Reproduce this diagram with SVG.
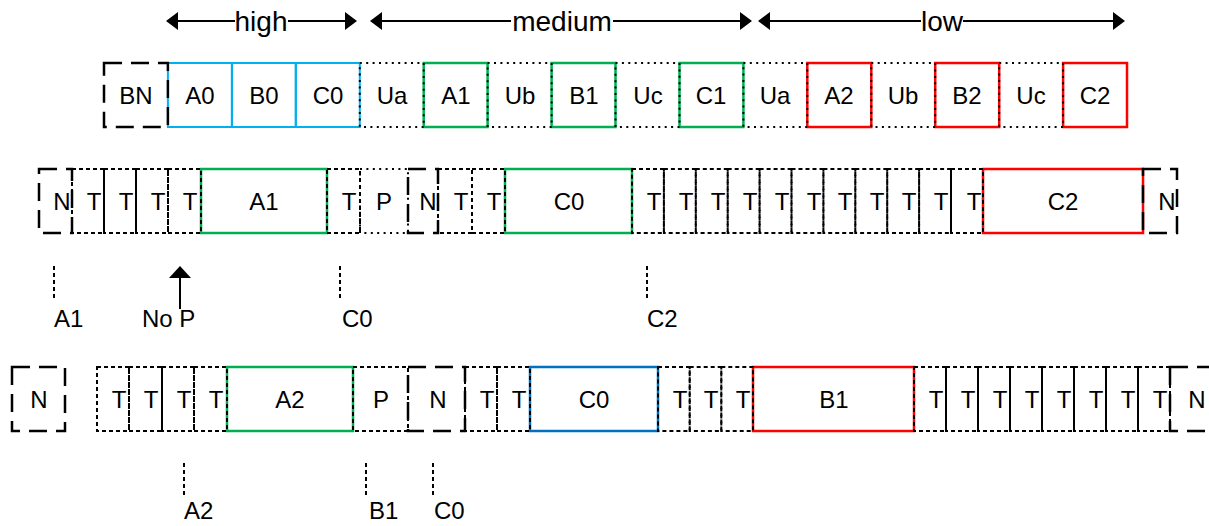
<svg xmlns="http://www.w3.org/2000/svg" width="1209" height="526" viewBox="0 0 1209 526">
<style>
rect{fill:none}
.ld{stroke:#000;stroke-width:2.5;stroke-dasharray:18 9}
.sd{stroke:#000;stroke-width:2;stroke-dasharray:4 3}
.dt{stroke:#000;stroke-width:2;stroke-dasharray:2 4.4}
.bl{stroke:#00b0f0;stroke-width:2}
.gr{stroke:#00b050;stroke-width:2.5}
.rd{stroke:#ff0000;stroke-width:2.5}
.db{stroke:#0070c0;stroke-width:2.5}
.tk{stroke:#000;stroke-width:2;stroke-dasharray:4 3;fill:none}
.ar{stroke:#000;stroke-width:2;fill:none}
.ah{fill:#000}
text{font-family:"Liberation Sans",Arial,sans-serif;font-size:24px;fill:#000;text-anchor:middle}
.s{text-anchor:start}
.big{font-size:28px}
</style>

<g id="connectors">
  <!-- top range arrows -->
  <line class="ar" x1="176" y1="21" x2="235" y2="21"/>
  <line class="ar" x1="288" y1="21" x2="347" y2="21"/>
  <polygon class="ah" points="166,21 178,12 178,30"/>
  <polygon class="ah" points="357,21 345,12 345,30"/>
  <line class="ar" x1="380" y1="21" x2="511" y2="21"/>
  <line class="ar" x1="613" y1="21" x2="742" y2="21"/>
  <polygon class="ah" points="370,21 382,12 382,30"/>
  <polygon class="ah" points="752,21 740,12 740,30"/>
  <line class="ar" x1="768" y1="21" x2="921" y2="21"/>
  <line class="ar" x1="963" y1="21" x2="1115" y2="21"/>
  <polygon class="ah" points="758,21 770,12 770,30"/>
  <polygon class="ah" points="1125,21 1113,12 1113,30"/>
  <!-- markers under row 2 -->
  <line class="tk" x1="54" y1="266" x2="54" y2="299"/>
  <line class="tk" x1="340" y1="266" x2="340" y2="299"/>
  <line class="tk" x1="647" y1="266" x2="647" y2="299"/>
  <line class="ar" x1="180" y1="276" x2="180" y2="309"/>
  <polygon class="ah" points="180,266 169,278 191,278"/>
  <!-- markers under row 3 -->
  <line class="tk" x1="184" y1="463" x2="184" y2="497"/>
  <line class="tk" x1="366" y1="463" x2="366" y2="497"/>
  <line class="tk" x1="433" y1="463" x2="433" y2="497"/>
</g>

<g id="range-labels">
  <text class="big" x="261" y="31">high</text>
  <text class="big" x="562" y="31">medium</text>
  <text class="big" x="942" y="31">low</text>
</g>

<!-- Row 1 -->
<g id="r1-A0"><rect class="bl" x="167.9" y="63" width="64" height="64"/><text x="200" y="104">A0</text></g>
<g id="r1-B0"><rect class="bl" x="231.9" y="63" width="63.9" height="64"/><text x="264" y="104">B0</text></g>
<g id="r1-C0"><rect class="bl" x="295.8" y="63" width="64" height="64"/><text x="328" y="104">C0</text></g>
<g id="r1-A1"><rect class="gr" x="423.7" y="63" width="63.9" height="64"/><text x="456" y="104">A1</text></g>
<g id="r1-B1"><rect class="gr" x="551.6" y="63" width="63.9" height="64"/><text x="584" y="104">B1</text></g>
<g id="r1-C1"><rect class="gr" x="679.5" y="63" width="63.9" height="64"/><text x="711" y="104">C1</text></g>
<g id="r1-A2"><rect class="rd" x="807.3" y="63" width="64" height="64"/><text x="839" y="104">A2</text></g>
<g id="r1-B2"><rect class="rd" x="935.2" y="63" width="64" height="64"/><text x="967" y="104">B2</text></g>
<g id="r1-C2"><rect class="rd" x="1063.1" y="63" width="63.9" height="64"/><text x="1095" y="104">C2</text></g>
<g id="r1-BN"><rect class="ld" x="104" y="63" width="63.9" height="64"/><text x="136" y="104">BN</text></g>
<g id="r1-Ua1"><rect class="dt" x="359.8" y="63" width="63.9" height="64"/><text x="392" y="104">Ua</text></g>
<g id="r1-Ub1"><rect class="dt" x="487.6" y="63" width="64" height="64"/><text x="520" y="104">Ub</text></g>
<g id="r1-Uc1"><rect class="dt" x="615.5" y="63" width="64" height="64"/><text x="648" y="104">Uc</text></g>
<g id="r1-Ua2"><rect class="dt" x="743.4" y="63" width="63.9" height="64"/><text x="775" y="104">Ua</text></g>
<g id="r1-Ub2"><rect class="dt" x="871.3" y="63" width="63.9" height="64"/><text x="903" y="104">Ub</text></g>
<g id="r1-Uc2"><rect class="dt" x="999.2" y="63" width="63.9" height="64"/><text x="1031" y="104">Uc</text></g>

<!-- Row 2 -->
<g id="r2-A1"><rect class="gr" x="201" y="169" width="126" height="64"/><text x="264" y="210">A1</text></g>
<g id="r2-C0"><rect class="gr" x="505" y="169" width="127" height="64"/><text x="569" y="210">C0</text></g>
<g id="r2-C2"><rect class="rd" x="983" y="169" width="160" height="64"/><text x="1063" y="210">C2</text></g>
<g id="r2-N1"><rect class="ld" x="39" y="169" width="33" height="64"/><text x="62" y="210">N</text></g>
<g id="r2-T1"><rect class="sd" x="72" y="169" width="32" height="64"/><text x="94" y="210">T</text></g>
<g id="r2-T2"><rect class="sd" x="104" y="169" width="32" height="64"/><text x="126" y="210">T</text></g>
<g id="r2-T3"><rect class="sd" x="136" y="169" width="32" height="64"/><text x="158" y="210">T</text></g>
<g id="r2-T4"><rect class="sd" x="168" y="169" width="33" height="64"/><text x="190" y="210">T</text></g>
<g id="r2-T5"><rect class="sd" x="327" y="169" width="33" height="64"/><text x="349" y="210">T</text></g>
<g id="r2-P"><rect class="dt" x="360" y="169" width="48" height="64"/><text x="384" y="210">P</text></g>
<g id="r2-N2"><rect class="ld" x="408" y="169" width="30" height="64"/><text x="428" y="210">N</text></g>
<g id="r2-T6"><rect class="sd" x="438" y="169" width="34" height="64"/><text x="461" y="210">T</text></g>
<g id="r2-T7"><rect class="sd" x="472" y="169" width="33" height="64"/><text x="494" y="210">T</text></g>
<g id="r2-T8"><rect class="sd" x="632" y="169" width="31.9" height="64"/><text x="654" y="210">T</text></g>
<g id="r2-T9"><rect class="sd" x="663.9" y="169" width="31.9" height="64"/><text x="686" y="210">T</text></g>
<g id="r2-T10"><rect class="sd" x="695.8" y="169" width="31.9" height="64"/><text x="718" y="210">T</text></g>
<g id="r2-T11"><rect class="sd" x="727.7" y="169" width="31.9" height="64"/><text x="750" y="210">T</text></g>
<g id="r2-T12"><rect class="sd" x="759.6" y="169" width="31.9" height="64"/><text x="782" y="210">T</text></g>
<g id="r2-T13"><rect class="sd" x="791.5" y="169" width="31.9" height="64"/><text x="814" y="210">T</text></g>
<g id="r2-T14"><rect class="sd" x="823.4" y="169" width="31.9" height="64"/><text x="845" y="210">T</text></g>
<g id="r2-T15"><rect class="sd" x="855.3" y="169" width="31.9" height="64"/><text x="877" y="210">T</text></g>
<g id="r2-T16"><rect class="sd" x="887.2" y="169" width="31.9" height="64"/><text x="909" y="210">T</text></g>
<g id="r2-T17"><rect class="sd" x="919.1" y="169" width="31.9" height="64"/><text x="941" y="210">T</text></g>
<g id="r2-T18"><rect class="sd" x="951" y="169" width="32" height="64"/><text x="974" y="210">T</text></g>
<g id="r2-N3"><rect class="ld" x="1143" y="169" width="34" height="64"/><text x="1167" y="210">N</text></g>

<g id="r2-labels">
  <text class="s" x="54" y="327">A1</text>
  <text class="s" x="142" y="327">No P</text>
  <text class="s" x="342" y="327">C0</text>
  <text class="s" x="647" y="327">C2</text>
</g>

<!-- Row 3 -->
<g id="r3-A2"><rect class="gr" x="227" y="367" width="126" height="64"/><text x="290" y="408">A2</text></g>
<g id="r3-C0"><rect class="db" x="530" y="367" width="128" height="64"/><text x="594" y="408">C0</text></g>
<g id="r3-B1"><rect class="rd" x="753" y="367" width="161" height="64"/><text x="834" y="408">B1</text></g>
<g id="r3-N1"><rect class="ld" x="12" y="367" width="53" height="64"/><text x="39" y="408">N</text></g>
<g id="r3-T1"><rect class="sd" x="97" y="367" width="32" height="64"/><text x="119" y="408">T</text></g>
<g id="r3-T2"><rect class="sd" x="129" y="367" width="33" height="64"/><text x="151" y="408">T</text></g>
<g id="r3-T3"><rect class="sd" x="162" y="367" width="32" height="64"/><text x="184" y="408">T</text></g>
<g id="r3-T4"><rect class="sd" x="194" y="367" width="33" height="64"/><text x="216" y="408">T</text></g>
<g id="r3-P"><rect class="sd" x="353" y="367" width="55" height="64"/><text x="381" y="408">P</text></g>
<g id="r3-N2"><rect class="ld" x="408" y="367" width="57" height="64"/><text x="438" y="408">N</text></g>
<g id="r3-T5"><rect class="sd" x="465" y="367" width="32" height="64"/><text x="487" y="408">T</text></g>
<g id="r3-T6"><rect class="sd" x="497" y="367" width="33" height="64"/><text x="519" y="408">T</text></g>
<g id="r3-T7"><rect class="sd" x="658" y="367" width="31.7" height="64"/><text x="680" y="408">T</text></g>
<g id="r3-T8"><rect class="sd" x="689.7" y="367" width="31.6" height="64"/><text x="711" y="408">T</text></g>
<g id="r3-T9"><rect class="sd" x="721.3" y="367" width="31.7" height="64"/><text x="743" y="408">T</text></g>
<g id="r3-T10"><rect class="sd" x="914" y="367" width="32" height="64"/><text x="936" y="408">T</text></g>
<g id="r3-T11"><rect class="sd" x="946" y="367" width="32" height="64"/><text x="968" y="408">T</text></g>
<g id="r3-T12"><rect class="sd" x="978" y="367" width="32" height="64"/><text x="1000" y="408">T</text></g>
<g id="r3-T13"><rect class="sd" x="1010" y="367" width="32" height="64"/><text x="1032" y="408">T</text></g>
<g id="r3-T14"><rect class="sd" x="1042" y="367" width="32" height="64"/><text x="1064" y="408">T</text></g>
<g id="r3-T15"><rect class="sd" x="1074" y="367" width="32" height="64"/><text x="1096" y="408">T</text></g>
<g id="r3-T16"><rect class="sd" x="1106" y="367" width="32" height="64"/><text x="1128" y="408">T</text></g>
<g id="r3-T17"><rect class="sd" x="1138" y="367" width="32" height="64"/><text x="1160" y="408">T</text></g>
<g id="r3-N3"><rect class="ld" x="1170" y="367" width="53" height="64"/><text x="1197" y="408">N</text></g>

<g id="r3-labels">
  <text class="s" x="184" y="519">A2</text>
  <text class="s" x="369" y="519">B1</text>
  <text class="s" x="434" y="519">C0</text>
</g>
</svg>
